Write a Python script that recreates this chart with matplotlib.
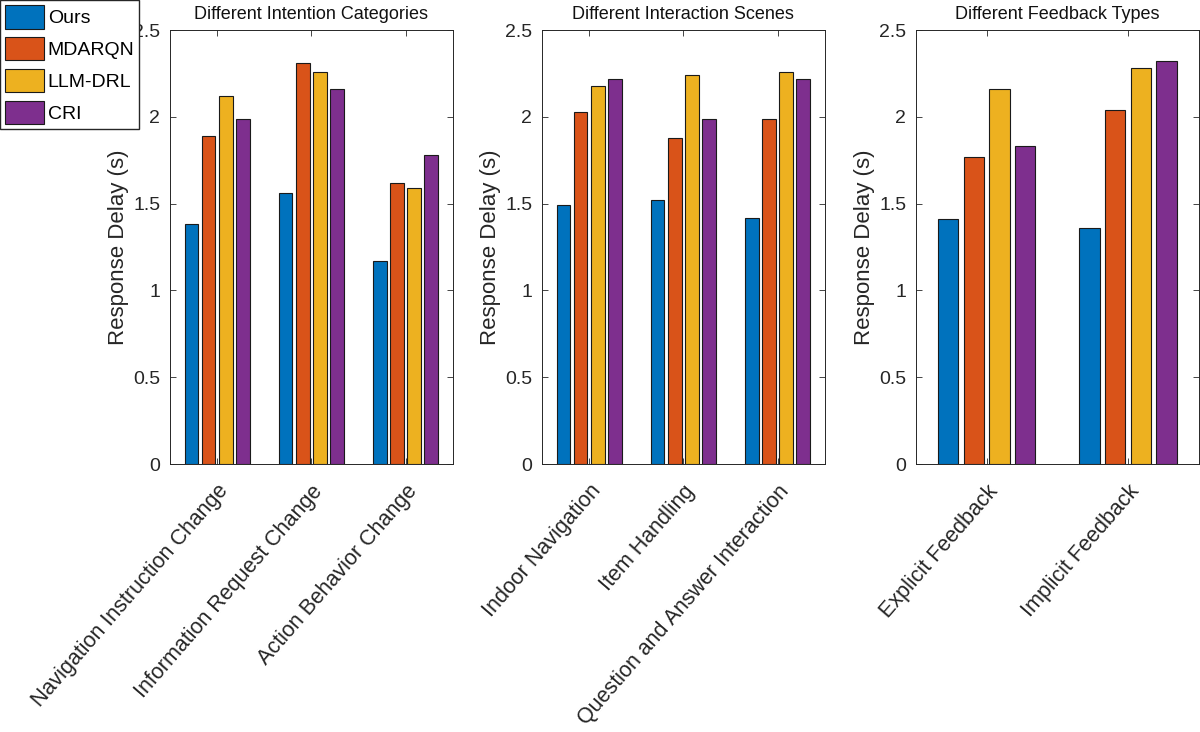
import numpy as np
import matplotlib
matplotlib.use('Agg')
import matplotlib.pyplot as plt

plt.rcParams['font.family'] = ['Liberation Sans', 'DejaVu Sans']

# data
methods = ['Ours', 'MDARQN', 'LLM-DRL', 'CRI']
colors = ['#0072BD', '#D95319', '#EDB120', '#7E2F8E']

titles = ['Different Intention Categories', 'Different Interaction Scenes', 'Different Feedback Types']

intention_cats = ['Navigation Instruction Change', 'Information Request Change', 'Action Behavior Change']
intention_vals = [[1.38, 1.56, 1.17],   # Ours
                  [1.89, 2.31, 1.62],   # MDARQN
                  [2.12, 2.26, 1.59],   # LLM-DRL
                  [1.99, 2.16, 1.78]]   # CRI

scene_cats = ['Indoor Navigation', 'Item Handling', 'Question and Answer Interaction']
scene_vals = [[1.49, 1.52, 1.42],
              [2.03, 1.88, 1.99],
              [2.18, 2.24, 2.26],
              [2.22, 1.99, 2.22]]

feedback_cats = ['Explicit Feedback', 'Implicit Feedback']
feedback_vals = [[1.41, 1.36],
                 [1.77, 2.04],
                 [2.16, 2.28],
                 [1.83, 2.32]]

yticks = [0, 0.5, 1, 1.5, 2, 2.5]
ytick_labels = ['0', '0.5', '1', '1.5', '2', '2.5']

panels = [(intention_cats, intention_vals), (scene_cats, scene_vals), (feedback_cats, feedback_vals)]
lefts = [170 / 1200, 542 / 1200, 916 / 1200]

fig = plt.figure(figsize=(12, 7.32), dpi=100)

n = len(methods)
group_w = min(0.8, n / (n + 1.5))
step = group_w / n
bar_w = 0.8 * step

handles = []
for k, (cats, vals) in enumerate(panels):
    ax = fig.add_axes([lefts[k], 0.366, 0.2355, 0.593])
    x = np.arange(1, len(cats) + 1)
    for i in range(n):
        off = (i - (n - 1) / 2) * step
        b = ax.bar(x + off, vals[i], width=bar_w, color=colors[i], edgecolor='#1a1a1a', linewidth=0.8)
        if k == 0:
            handles.append(b)
    ax.set_xlim(0.5, len(cats) + 0.5)
    ax.set_ylim(0, 2.5)
    ax.set_yticks(yticks)
    ax.set_yticklabels(ytick_labels, fontsize=14)
    ax.set_xticks(x)
    ax.set_xticklabels(cats, fontsize=15.5, rotation=49, ha='right', va='top', rotation_mode='anchor')
    ax.tick_params(direction='in', top=True, right=True, length=4, width=0.6, colors='#262626', pad=7)
    ax.tick_params(axis='x', pad=12)
    for s in ax.spines.values():
        s.set_color('#262626')
        s.set_linewidth(0.7)
    ax.set_ylabel('Response Delay (s)', fontsize=16, color='#262626', labelpad=3)
    ax.set_title(titles[k], fontsize=13, color='#111111', pad=8)

fig.legend(handles, methods, loc='upper left', bbox_to_anchor=(0.0, 1.0), borderaxespad=0,
           fontsize=14, fancybox=False, edgecolor='#262626', framealpha=1,
           handlelength=2.0, handleheight=1.5, handletextpad=0.2, labelspacing=0.42, borderpad=0.25)

fig.savefig('out.png', dpi=100)
